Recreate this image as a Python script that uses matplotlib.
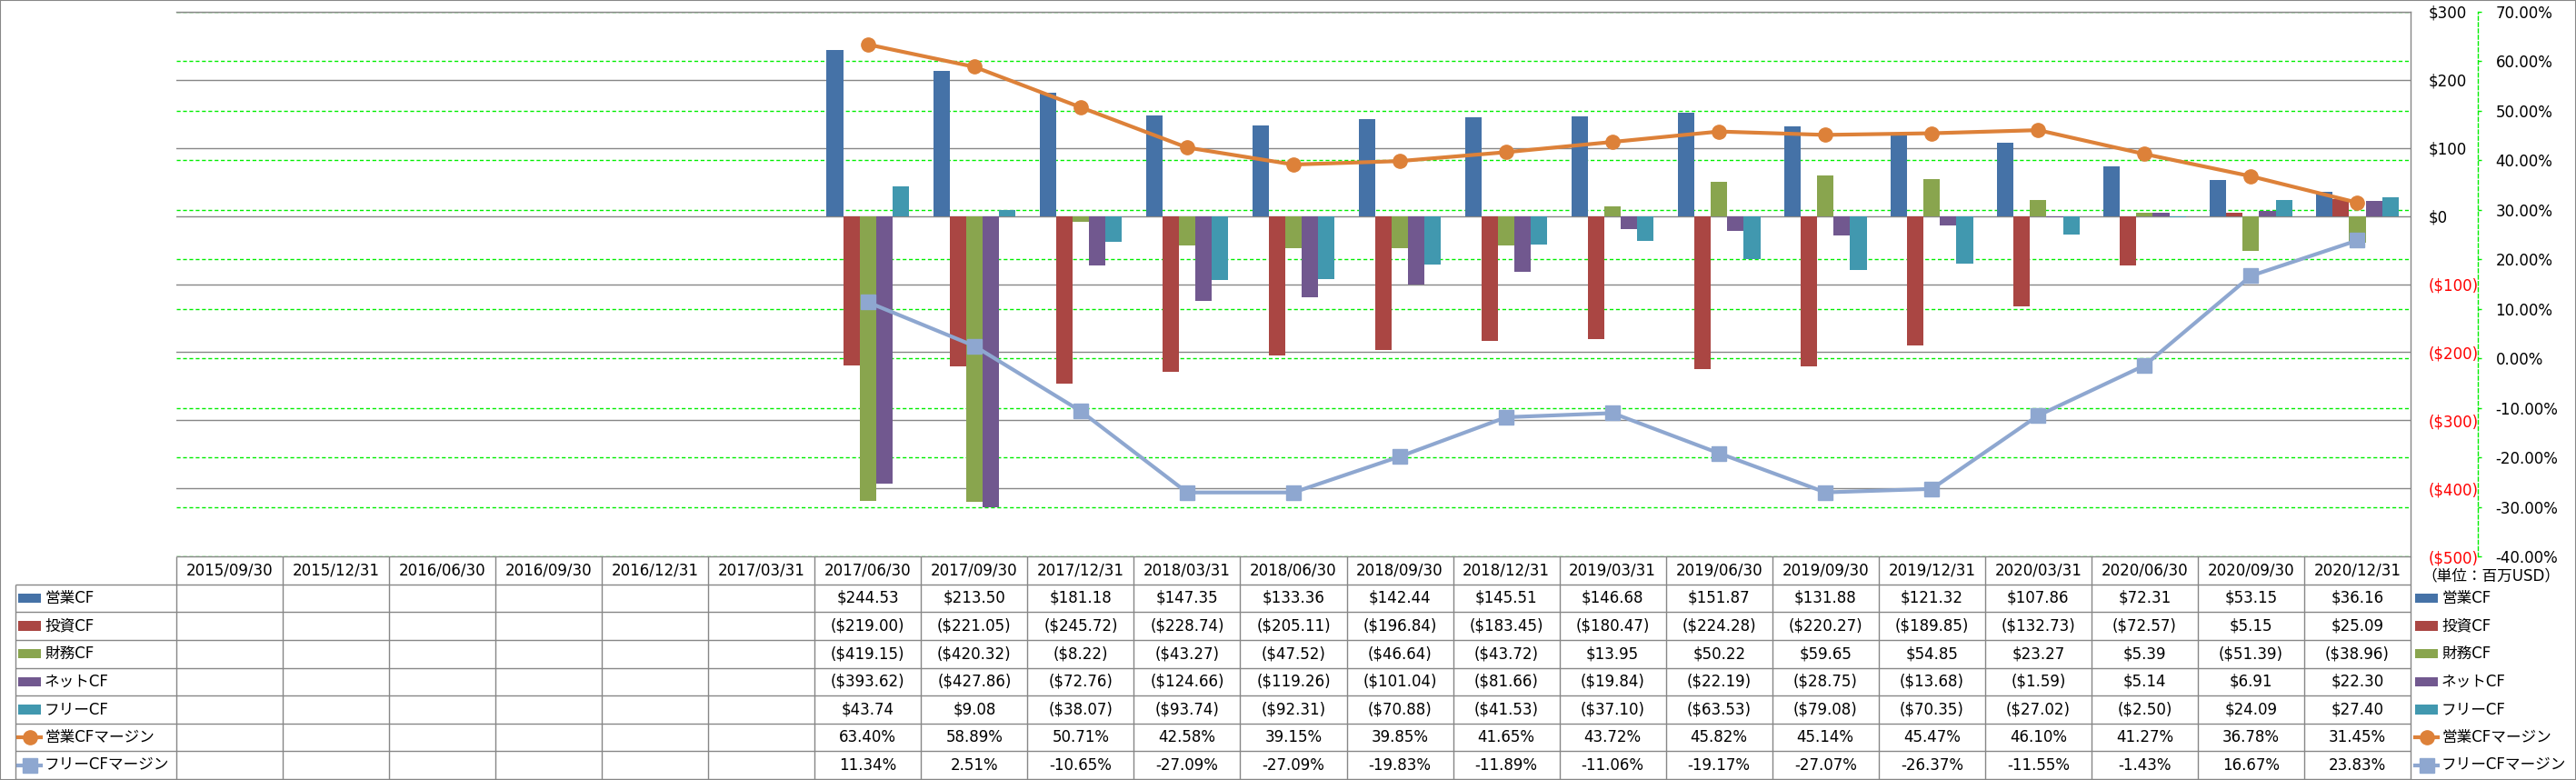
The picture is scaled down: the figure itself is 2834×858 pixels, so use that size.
import numpy as np
import matplotlib
matplotlib.use('Agg')
import matplotlib.pyplot as plt
from matplotlib.patches import Rectangle

plt.rcParams['font.family'] = ['DejaVu Sans', 'Noto Sans CJK JP']
plt.rcParams['font.size'] = 12

# 決算期
dates = ['2015/09/30', '2015/12/31', '2016/06/30', '2016/09/30', '2016/12/31',
         '2017/03/31', '2017/06/30', '2017/09/30', '2017/12/31', '2018/03/31',
         '2018/06/30', '2018/09/30', '2018/12/31', '2019/03/31', '2019/06/30',
         '2019/09/30', '2019/12/31', '2020/03/31', '2020/06/30', '2020/09/30',
         '2020/12/31']

empty = [None] * 6  # 2015/09/30〜2017/03/31 はデータなし

op_cf = empty + [244.53, 213.50, 181.18, 147.35, 133.36, 142.44, 145.51, 146.68,
                 151.87, 131.88, 121.32, 107.86, 72.31, 53.15, 36.16]
inv_cf = empty + [-219.00, -221.05, -245.72, -228.74, -205.11, -196.84, -183.45,
                  -180.47, -224.28, -220.27, -189.85, -132.73, -72.57, 5.15, 25.09]
fin_cf = empty + [-419.15, -420.32, -8.22, -43.27, -47.52, -46.64, -43.72, 13.95,
                  50.22, 59.65, 54.85, 23.27, 5.39, -51.39, -38.96]
net_cf = empty + [-393.62, -427.86, -72.76, -124.66, -119.26, -101.04, -81.66,
                  -19.84, -22.19, -28.75, -13.68, -1.59, 5.14, 6.91, 22.30]
free_cf = empty + [43.74, 9.08, -38.07, -93.74, -92.31, -70.88, -41.53, -37.10,
                   -63.53, -79.08, -70.35, -27.02, -2.50, 24.09, 27.40]
op_margin = empty + [63.40, 58.89, 50.71, 42.58, 39.15, 39.85, 41.65, 43.72, 45.82,
                     45.14, 45.47, 46.10, 41.27, 36.78, 31.45]
free_margin = empty + [11.34, 2.51, -10.65, -27.09, -27.09, -19.83, -11.89, -11.06,
                       -19.17, -27.07, -26.37, -11.55, -1.43, 16.67, 23.83]

bar_series = [('営業CF', op_cf, '#4572A7'),
              ('投資CF', inv_cf, '#AA4643'),
              ('財務CF', fin_cf, '#89A54E'),
              ('ネットCF', net_cf, '#71588F'),
              ('フリーCF', free_cf, '#4198AF')]
line_series = [('営業CFマージン', op_margin, '#DD8139', 'o'),
               ('フリーCFマージン', free_margin, '#8EA7D0', 's')]

usd_ticks = np.arange(-500, 301, 100)
pct_ticks = np.arange(-40, 71, 10)

GRID_GRAY = '#878787'
GREEN = '#00EE00'


def usd(v):
    return f'${v:,.2f}' if v >= 0 else f'(${-v:,.2f})'


def usd_tick(v):
    return f'${v:,.0f}' if v >= 0 else f'(${-v:,.0f})'


def arr(vals):
    return np.array([np.nan if v is None else v for v in vals], dtype=float)


# レイアウト (px)
W, H = 2834, 858
PL, PR, PT, PB = 194, 2652, 13, 612
LABEL_L = 17
fig = plt.figure(figsize=(W / 100, H / 100), dpi=100)

ax = fig.add_axes([PL / W, 1 - PB / H, (PR - PL) / W, (PB - PT) / H])
axg = ax.twinx()
axl = ax.twinx()
axg.set_zorder(1)
ax.set_zorder(2)
axl.set_zorder(3)
ax.patch.set_visible(False)
axl.patch.set_visible(False)

n = len(dates)
x = np.arange(n)
bw = 0.155
for k, (name, vals, color) in enumerate(bar_series):
    ax.bar(x + (k - 2) * bw, arr(vals), bw, color=color, zorder=2)

ax.set_xlim(-0.5, n - 0.5)
ax.set_ylim(-500, 300)
ax.set_xticks([])
ax.set_yticks(usd_ticks)
ax.set_yticklabels([usd_tick(v) for v in usd_ticks])
ax.yaxis.tick_right()
ax.tick_params(axis='y', length=0, pad=14.4, labelsize=12)
for tick, v in zip(ax.yaxis.get_major_ticks(), usd_ticks):
    tick.label2.set_color('red' if v < 0 else 'black')
ax.set_axisbelow(True)
ax.yaxis.grid(True, color=GRID_GRAY, lw=1.0)
for s in ['left', 'bottom']:
    ax.spines[s].set_visible(False)
for s in ['top', 'right']:
    ax.spines[s].set_color(GRID_GRAY)
    ax.spines[s].set_linewidth(1.0)

# パーセント軸 (緑の破線)
axg.set_ylim(-40, 70)
axg.set_yticks(pct_ticks)
axg.set_yticklabels([f'{v:.2f}%' for v in pct_ticks])
for tick, v in zip(axg.yaxis.get_major_ticks(), pct_ticks):
    tick.label2.set_color('red' if v < 0 else 'black')
axg.tick_params(axis='y', direction='out', length=3, width=1, color=GREEN,
                pad=11, labelsize=12)
axg.yaxis.grid(True, color=GREEN, ls=(0, (3, 2)), lw=1.0)
for s in ['left', 'top', 'bottom']:
    axg.spines[s].set_visible(False)
axg.spines['right'].set_position(('outward', 74 * 0.72))
axg.spines['right'].set_color(GREEN)
axg.spines['right'].set_linestyle((0, (3, 2)))
axg.spines['right'].set_linewidth(1.0)

# マージン折れ線
axl.set_ylim(-40, 70)
for name, vals, color, mk in line_series:
    axl.plot(x, arr(vals), color=color, lw=3, marker=mk, ms=11,
             markerfacecolor=color, markeredgecolor=color)
axl.axis('off')

# データテーブル
cw = (PR - PL) / n
axt = fig.add_axes([0, 1 / H, 1, (H - 1 - PB) / H])
axt.set_xlim(-0.5 - PL / cw, n - 0.5 + (W - PR) / cw)
axt.set_ylim(0, 8)
axt.axis('off')
lab_l = -0.5 - (PL - LABEL_L) / cw

axt.hlines(8, -0.5, n - 0.5, color=GRID_GRAY, lw=1.0)
axt.hlines(np.arange(0, 8), lab_l, n - 0.5, color=GRID_GRAY, lw=1.0)
axt.vlines(np.arange(-0.5, n), 0, 8, color=GRID_GRAY, lw=1.0)
axt.vlines(lab_l, 0, 7, color=GRID_GRAY, lw=1.0)

for i, d in enumerate(dates):
    axt.text(i, 7.5, d, ha='center', va='center', fontsize=12)

table_rows = [(name, vals, usd) for name, vals, _ in bar_series] + \
             [(name, vals, lambda v: f'{v:.2f}%') for name, vals, _, _ in line_series]
for r, (name, vals, fmt) in enumerate(table_rows):
    y = 6.5 - r
    for i, v in enumerate(vals):
        if v is not None:
            axt.text(i, y, fmt(v), ha='center', va='center', fontsize=12)

key_w = 25 / cw


def draw_key(x0, y, r):
    if r < len(bar_series):
        color = bar_series[r][2]
        axt.add_patch(Rectangle((x0, y - 0.17), key_w, 0.34, color=color, lw=0))
    else:
        _, _, color, mk = line_series[r - len(bar_series)]
        axt.plot([x0, x0 + key_w], [y, y], color=color, lw=3)
        axt.plot([x0 + key_w / 2], [y], color=color, marker=mk, ms=11)


for r, (name, vals, fmt) in enumerate(table_rows):
    y = 6.5 - r
    # 左の行ラベル
    draw_key(lab_l + 3 / cw, y, r)
    axt.text(lab_l + 32 / cw, y, name, ha='left', va='center', fontsize=12)
    # 右の凡例
    draw_key(n - 0.5 + 5 / cw, y, r)
    axt.text(n - 0.5 + 34 / cw, y, name, ha='left', va='center', fontsize=12)

axt.text(n - 0.5 + 12 / cw, 7.3, '（単位：百万USD）', ha='left', va='center',
         fontsize=12)

fig.add_artist(Rectangle((0, 0), 1, 1, transform=fig.transFigure, fill=False,
                         edgecolor=GRID_GRAY, lw=1.5))

fig.savefig('out.png', dpi=100)
